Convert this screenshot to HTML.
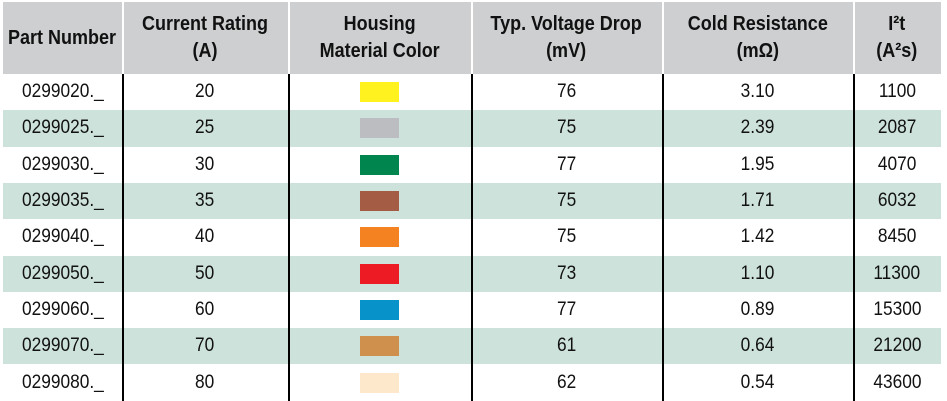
<!DOCTYPE html><html><head><style>
body{margin:0;width:947px;height:401px;background:#fff;overflow:hidden;position:relative;font-family:"Liberation Sans Narrow","Liberation Sans",sans-serif;color:#111}
.h{position:absolute;top:2px;height:72px;background:#cdcfd1}
.ht{position:absolute;top:2px;height:72px;display:flex;align-items:center;justify-content:center;text-align:center;font-weight:bold;font-size:20px;line-height:27px;white-space:nowrap}
.ht span{display:inline-block;transform:scaleX(.9)}
.c span{display:inline-block;transform:scaleX(.91)}
.r{position:absolute;left:3px;width:938px;height:36.3px}
.c{position:absolute;height:36.3px;display:flex;align-items:center;justify-content:center;font-size:19px;white-space:nowrap}
.v{position:absolute;top:74px;height:327px;width:1.5px;background:#000}
.sw{width:39px;height:20px}
</style></head><body>
<div class="h" style="left:3px;width:938px"></div>
<div style="position:absolute;top:2px;height:72px;left:122px;width:1.5px;background:#fff"></div>
<div style="position:absolute;top:2px;height:72px;left:288px;width:1.5px;background:#fff"></div>
<div style="position:absolute;top:2px;height:72px;left:471px;width:1.5px;background:#fff"></div>
<div style="position:absolute;top:2px;height:72px;left:662px;width:1.5px;background:#fff"></div>
<div style="position:absolute;top:2px;height:72px;left:853px;width:1.5px;background:#fff"></div>
<div class="ht" style="left:3px;width:119px"><span>Part Number</span></div>
<div class="ht" style="left:122px;width:166px"><span>Current Rating<br>(A)</span></div>
<div class="ht" style="left:288px;width:183px"><span>Housing<br>Material Color</span></div>
<div class="ht" style="left:471px;width:191px"><span>Typ. Voltage Drop<br>(mV)</span></div>
<div class="ht" style="left:662px;width:191px"><span>Cold Resistance<br>(mΩ)</span></div>
<div class="ht" style="left:853px;width:88px"><span>I²t<br>(A²s)</span></div>
<div id="rows"></div>
<script>
var d=[["0299020._",20,"#fff21f",76,"3.10",1100],["0299025._",25,"#bcbdc0",75,"2.39",2087],["0299030._",30,"#00854f",77,"1.95",4070],["0299035._",35,"#a55c45",75,"1.71",6032],["0299040._",40,"#f58220",75,"1.42",8450],["0299050._",50,"#ed1c24",73,"1.10",11300],["0299060._",60,"#0792c9",77,"0.89",15300],["0299070._",70,"#cf904e",61,"0.64",21200],["0299080._",80,"#fee8cb",62,"0.54",43600]];
var x=[3,122,288,471,662,853,941],h="";
d.forEach(function(r,i){var t=74+i*36.3;
if(i%2)h+='<div class="r" style="top:'+t+'px;background:#cde2da"></div>';
for(var j=0;j<6;j++){var c=j==2?'<div class="sw" style="background:'+r[2]+'"></div>':'<span>'+r[j]+'</span>';
h+='<div class="c" style="top:'+t+'px;left:'+x[j]+'px;width:'+(x[j+1]-x[j])+'px">'+c+'</div>';}});
[122,288,471,662,853].forEach(function(v){h+='<div class="v" style="left:'+v+'px"></div>'});
document.getElementById("rows").innerHTML=h;
</script>
</body></html>
